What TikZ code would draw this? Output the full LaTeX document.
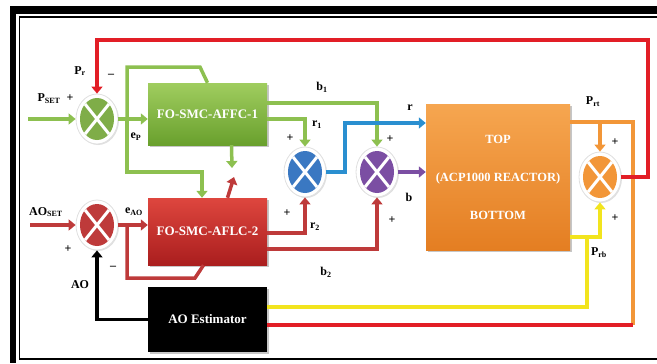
\documentclass[tikz,border=0pt]{standalone}
\usepackage{fontspec}
\setmainfont{Liberation Serif}
\usetikzlibrary{arrows.meta,shapes.geometric,shadows}

\definecolor{lgreen}{RGB}{141,192,80}
\definecolor{boxgreenA}{RGB}{160,205,95}
\definecolor{boxgreenB}{RGB}{105,160,45}
\definecolor{dred}{RGB}{190,58,58}
\definecolor{boxredA}{RGB}{222,70,62}
\definecolor{boxredB}{RGB}{170,30,30}
\definecolor{fbred}{RGB}{226,30,38}
\definecolor{sblue}{RGB}{58,120,194}
\definecolor{lblue}{RGB}{42,143,208}
\definecolor{spurple}{RGB}{123,78,163}
\definecolor{sorange}{RGB}{242,150,56}
\definecolor{boxorA}{RGB}{246,166,80}
\definecolor{boxorB}{RGB}{228,126,34}
\definecolor{syellow}{RGB}{242,228,30}

\tikzset{
  blk/.style={rectangle, minimum width=119pt, text=white, inner sep=0pt,
    font=\bfseries\fontsize{13}{15}\selectfont,
    drop shadow={opacity=0.45, shadow xshift=1.5pt, shadow yshift=-1.5pt}},
  sumj/.style={ellipse, minimum width=42pt, minimum height=50pt, inner sep=0pt,
    fill=white, draw=black!12, line width=0.8pt,
    drop shadow={opacity=0.25, shadow xshift=1pt, shadow yshift=-1pt},
    path picture={
      \fill[#1] (path picture bounding box.center) ellipse [x radius=17pt, y radius=21pt];
      \draw[white, line width=3pt, shift={(path picture bounding box.center)}]
        (-12,-15) -- (12,15) (-12,15) -- (12,-15);
    }},
  sig/.style={line width=3.5pt, draw=#1},
  lbl/.style={font=\bfseries\fontsize{12}{14}\selectfont, inner sep=0pt},
}

\begin{document}
\begin{tikzpicture}[x=1pt, y=-1pt, >={Triangle[length=7pt,width=11pt]}]
  \useasboundingbox (0,0) rectangle (657,364);
  % frame
  \fill[black] (10,6) rectangle (657,14);
  \fill[black] (10,6) rectangle (16,363);
  \draw[line width=1.2pt] (657,17) -- (19.5,17) -- (19.5,359) -- (657,359);

  % blocks
  \node[blk, minimum height=62pt, top color=boxgreenA, bottom color=boxgreenB] (ffc) at (207.5,114) {FO-SMC-AFFC-1};
  \node[blk, minimum height=67pt, top color=boxredA, bottom color=boxredB] (flc) at (207.5,231.5) {FO-SMC-AFLC-2};
  \node[blk, minimum height=65pt, fill=black] (est) at (207.5,319.5) {AO Estimator};
  \node[blk, minimum width=144pt, minimum height=146pt, top color=boxorA, bottom color=boxorB, align=center,
    font=\bfseries\fontsize{12.5}{14}\selectfont] (reac) at (498,177)
    {TOP\\[24pt](ACP1000 REACTOR)\\[24pt]BOTTOM};

  % summing junctions
  \node[sumj=lgreen!90!black] (sp) at (97,119) {};
  \node[sumj=dred] (sao) at (97,225) {};
  \node[sumj=sblue] (sr) at (305,172) {};
  \node[sumj=spurple] (sb) at (377,172) {};
  \node[sumj=sorange] (sout) at (600,177) {};

  % free ends and corners
  \coordinate (pin) at (28,119);
  \coordinate (aoin) at (30,225);
  \coordinate (ep) at (127,119);
  \coordinate (eao) at (127,225);
  \coordinate (tapt) at (600,122);
  \coordinate (cornt) at (633,122);
  \coordinate (cornb) at (633,325);
  \coordinate (tapb) at (587,237);

  % P loop
  \draw[sig=lgreen, ->] (pin) -- (sp);
  \draw[sig=lgreen, ->] (sp.east) -- (sp.east -| ffc.west);
  \draw[sig=lgreen] (ep) |- (200,67) -- (ffc.north);
  \draw[sig=lgreen, ->] (ep) |- (202,172) -- ([xshift=-5.5pt]flc.north);
  \draw[sig=lgreen, ->] ([xshift=24pt]ffc.south) -- (232,168);
  \draw[sig=lgreen, ->] ([yshift=11pt]ffc.east) -| (sb.north);
  \draw[sig=lgreen, ->] ([yshift=-5pt]ffc.east) -| (sr.north);

  % AO loop
  \draw[sig=dred, ->] (aoin) -- (sao);
  \draw[sig=dred, ->] (sao.east) -- (sao.east -| flc.west);
  \draw[sig=dred] (eao) |- (195,278) -- ([xshift=-4pt]flc.south);
  \draw[sig=dred, ->] ([xshift=20pt]flc.north) -- (234,177);
  \draw[sig=dred, ->] ([yshift=-1.5pt]flc.east) -| (sr.south);
  \draw[sig=dred, ->] ([yshift=-17.5pt]flc.east) -| (sb.south);
  \draw[sig=black, ->] (est.west) -| (sao.south);

  % into the reactor
  \draw[sig=lblue, ->] (sr.east) -- (345,172) |- ([yshift=54pt]reac.west);
  \draw[sig=spurple, ->] (sb.east) -- (sb.east -| reac.west);

  % out of the reactor
  \draw[sig=sorange] ([yshift=55pt]reac.east) -- (cornt) -- (cornb);
  \draw[sig=sorange, ->] (tapt) -- (sout.north);
  \draw[sig=fbred] (cornb) -- (cornb -| est.east);
  \draw[sig=syellow, ->] ([yshift=-60pt]reac.east) -| (sout.south);
  \draw[sig=syellow] (tapb) |- ([yshift=12.5pt]est.east);
  \draw[sig=fbred, ->] (sout.east) -| (648,40) -| (sp.north);

  % labels
  \node[lbl] at (49,99) {P\textsubscript{SET}};
  \node[lbl] at (70,98) {+};
  \node[lbl] at (80,71) {P\textsubscript{r}};
  \node[lbl] at (111,76) {\textendash};
  \node[lbl] at (136,137) {e\textsubscript{P}};
  \node[lbl] at (46,212) {AO\textsubscript{SET}};
  \node[lbl] at (68,249) {+};
  \node[lbl] at (134,212) {e\textsubscript{AO}};
  \node[lbl] at (113,268) {\textendash};
  \node[lbl] at (80,285) {AO};
  \node[lbl] at (322,87) {b\textsubscript{1}};
  \node[lbl] at (317,125) {r\textsubscript{1}};
  \node[lbl] at (290,138) {+};
  \node[lbl] at (315,227) {r\textsubscript{2}};
  \node[lbl] at (287,213) {+};
  \node[lbl] at (326,272) {b\textsubscript{2}};
  \node[lbl] at (390,139) {+};
  \node[lbl] at (392,220) {+};
  \node[lbl] at (410,108) {r};
  \node[lbl] at (409,197) {b};
  \node[lbl] at (593,102) {P\textsubscript{rt}};
  \node[lbl] at (615,142) {+};
  \node[lbl] at (599,253) {P\textsubscript{rb}};
  \node[lbl] at (615,218) {+};
\end{tikzpicture}
\end{document}
